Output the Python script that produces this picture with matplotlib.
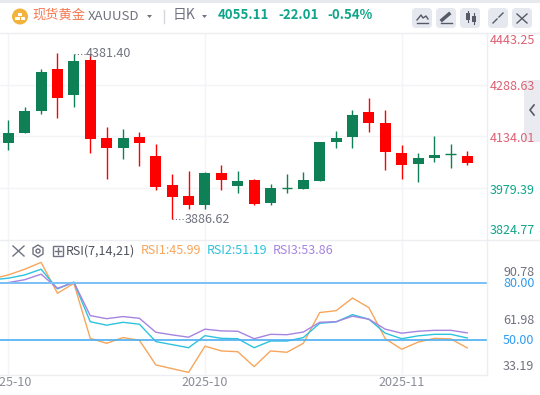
import matplotlib
matplotlib.use("Agg")
import matplotlib.pyplot as plt
from matplotlib.patches import Circle, FancyBboxPatch, Polygon, Rectangle

plt.rcParams['font.family'] = ['Noto Sans CJK SC', 'DejaVu Sans']

# candles
opens = [4114.6, 4144.4, 4210.2, 4335.7, 4258.0, 4362.6, 4129.5, 4099.6, 4132.5, 4075.7, 3989.0, 3956.0,
         3929.3, 4024.9, 3986.0, 4004.0, 3935.3, 3979.2, 3977.0, 4001.0, 4117.5, 4132.5, 4207.2, 4174.3,
         4084.7, 4051.8, 4069.7, 4081.7, 4077.1]
highs = [4183.3, 4222.1, 4335.7, 4383.5, 4381.4, 4380.5, 4162.4, 4156.4, 4147.4, 4111.6, 4021.9, 4030.9,
         4027.9, 4048.8, 4030.9, 4007.0, 3992.0, 4021.9, 4027.9, 4117.5, 4150.4, 4213.2, 4249.0, 4213.2,
         4108.6, 4084.7, 4135.5, 4111.6, 4090.7]
lows = [4093.7, 4144.4, 4201.2, 4189.3, 4222.1, 4084.7, 4007.0, 4066.8, 4045.8, 3974.0, 3886.62, 3917.4,
        3917.4, 3974.0, 3965.0, 3929.3, 3929.3, 3965.0, 3977.0, 4001.0, 4099.6, 4099.6, 4147.4, 4033.9,
        4007.0, 3998.0, 4057.8, 4039.8, 4048.8]
closes = [4144.4, 4210.2, 4326.7, 4249.0, 4359.6, 4126.5, 4099.6, 4129.5, 4114.6, 3983.0, 3953.0, 3929.3,
          4024.9, 4004.0, 4001.0, 3932.3, 3980.0, 3979.2, 4004.0, 4117.5, 4129.5, 4198.2, 4174.3, 4087.7,
          4048.8, 4069.7, 4078.7, 4081.7, 4055.11]

# RSI lines, first value is the bar before the left edge
rsi_idx = list(range(-1, 29))
rsi1 = [82.1, 84.2, 87.2, 90.78, 74.6, 79.8, 51.0, 48.4, 51.4, 50.0, 37.1, 35.1, 33.19, 46.9, 44.4, 44.0,
        36.2, 44.4, 43.7, 48.4, 64.5, 65.5, 72.1, 67.1, 50.8, 45.3, 49.0, 51.0, 50.7, 45.99]
rsi2 = [81.6, 82.5, 84.2, 87.2, 76.9, 80.4, 59.7, 57.9, 59.4, 58.4, 49.3, 47.7, 46.1, 52.4, 51.0, 50.8,
        46.1, 49.6, 49.6, 51.4, 58.9, 59.6, 63.4, 61.0, 53.7, 50.8, 52.3, 53.1, 53.1, 51.19]
rsi3 = [79.5, 80.2, 81.7, 84.6, 77.2, 80.4, 62.9, 61.3, 62.4, 61.5, 54.2, 52.8, 51.6, 55.8, 54.9, 54.7,
        50.8, 53.1, 52.9, 54.3, 59.4, 59.7, 62.6, 61.0, 55.8, 53.7, 54.7, 55.2, 55.2, 53.86]

price_labels = ["4443.25", "4288.63", "4134.01", "3979.39", "3824.77"]
date_idx = [0, 12, 24]
date_labels = ["2025-10", "2025-10", "2025-11"]

W, H = 540, 395
UP = "#0f8055"
DOWN = "#fe0000"
GRID = "#f3f4f8"
BORDER = "#eceef2"
GREY = "#70727f"
TEAL = "#0fa58a"
PINK = "#dd6072"

fig = plt.figure(figsize=(W / 100, H / 100), dpi=100, facecolor="white")


def px_axes(left, top, right, bottom):
    return fig.add_axes([left / W, 1 - bottom / H, (right - left) / W, (bottom - top) / H])


# bar 0 sits at 8.3 px, bars are 16.39 px apart
x_lo = (0 - 8.3) / 16.39
x_hi = (486.5 - 8.3) / 16.39

ax = px_axes(0, 33, 486.5, 240)
ax.set_xlim(x_lo, x_hi)
ax.set_ylim(3824.77, 4443.25)
ax.set_yticks([3979.39, 4134.01, 4288.63])
ax.set_xticks(date_idx)
ax.grid(True, color=GRID, lw=1)
ax.set_axisbelow(True)
ax.tick_params(left=False, bottom=False, labelleft=False, labelbottom=False)
for s in ax.spines.values():
    s.set_visible(False)

for i in range(len(opens)):
    col = UP if closes[i] >= opens[i] else DOWN
    ax.vlines(i, lows[i], highs[i], color=col, lw=1, zorder=2)
    lo_b = min(opens[i], closes[i])
    hi_b = max(opens[i], closes[i])
    if hi_b - lo_b < 1:
        ax.hlines(hi_b, i - 0.33, i + 0.33, color=col, lw=1, zorder=3)
    else:
        ax.bar(i, hi_b - lo_b, bottom=lo_b, width=0.67, color=col, lw=0, zorder=3)

# high and low marks
ax.plot([4, 4.9], [4381.4, 4381.4], color=GREY, lw=0.8, ls=(0, (1, 2)))
ax.text(4.75, 4381.4, "4381.40", color=GREY, fontsize=9, va="center", ha="left")
ax.plot([10, 10.9], [3886.62, 3886.62], color=GREY, lw=0.8, ls=(0, (1, 2)))
ax.text(10.75, 3886.62, "3886.62", color=GREY, fontsize=9, va="center", ha="left")

ax2 = px_axes(0, 240, 486.5, 375)
ax2.set_xlim(x_lo, x_hi)
ax2.set_ylim(31.8, 102.5)
ax2.set_xticks(date_idx)
ax2.set_yticks([])
ax2.grid(True, axis="x", color=GRID, lw=1)
ax2.set_axisbelow(True)
ax2.tick_params(left=False, bottom=False, labelleft=False, labelbottom=False)
for s in ax2.spines.values():
    s.set_visible(False)
ax2.plot(rsi_idx, rsi1, color="#f7a65c", lw=1)
ax2.plot(rsi_idx, rsi2, color="#2dc3dc", lw=1)
ax2.plot(rsi_idx, rsi3, color="#a684e0", lw=1)
ax2.axhline(80, color="#7cc0f5", lw=1.4)
ax2.axhline(50, color="#4aaef2", lw=1.2)

# everything around the plots is placed in pixels
bg = fig.add_axes([0, 0, 1, 1], zorder=5)
bg.set_xlim(0, W)
bg.set_ylim(H, 0)
bg.axis("off")
bg.patch.set_alpha(0)

bg.add_patch(Rectangle((0, 0), W, 2.5, color="#e6e9ee", lw=0))
bg.plot([0, W], [33, 33], color=BORDER, lw=1)
bg.plot([0, W], [240, 240], color=BORDER, lw=1)
bg.plot([0, 486.5], [375, 375], color=BORDER, lw=1)
bg.plot([486.5, 486.5], [33, 375], color=BORDER, lw=1)

# gold icon
bg.add_patch(Circle((20, 16.5), 8, color="#f2b33d", lw=0))
bg.add_patch(Rectangle((18, 12.5), 4, 3, color="white", lw=0))
bg.add_patch(Rectangle((15, 16.5), 4.5, 3, color="white", lw=0))
bg.add_patch(Rectangle((20.5, 16.5), 4.5, 3, color="white", lw=0))

bg.text(32, 15.5, "现货黄金", color="#f5784f", fontsize=9.5, va="center", ha="left")
bg.text(88, 16.5, "XAUUSD", color=GREY, fontsize=9.5, va="center", ha="left")
bg.add_patch(Polygon([[147, 15], [152, 15], [149.5, 18]], color=GREY, lw=0))
bg.plot([163.5, 163.5], [10, 23], color="#d5d7dd", lw=1)
bg.text(173, 15.5, "日K", color=GREY, fontsize=10, va="center", ha="left")
bg.add_patch(Polygon([[202, 15], [207, 15], [204.5, 18]], color=GREY, lw=0))
bg.text(218, 15, "4055.11", color=TEAL, fontsize=9.5, fontweight="bold", va="center", ha="left")
bg.text(278, 15, "-22.01", color=TEAL, fontsize=9.5, fontweight="bold", va="center", ha="left")
bg.text(327, 15, "-0.54%", color=TEAL, fontsize=9.5, fontweight="bold", va="center", ha="left")

# toolbar buttons
for bx in [412, 436, 460, 488, 512]:
    bg.add_patch(FancyBboxPatch((bx, 8), 20, 20, boxstyle="round,pad=0,rounding_size=4",
                                fc="#e6e8ef", ec="none"))
bg.plot([417, 421, 423, 426, 428], [20, 15, 18, 16, 19], color="#555a66", lw=1)
bg.plot([417, 428], [22.5, 22.5], color="#555a66", lw=1)
bg.plot([442, 449], [20, 14], color="#555a66", lw=2.5)
bg.plot([441, 452], [22.5, 22.5], color="#555a66", lw=1)
bg.add_patch(Rectangle((466, 13), 3.5, 7, color="#555a66", lw=0))
bg.plot([467.8, 467.8], [11, 22], color="#555a66", lw=0.8)
bg.add_patch(Rectangle((472, 15.5), 3.5, 6, color="#555a66", lw=0))
bg.plot([473.8, 473.8], [13, 24], color="#555a66", lw=0.8)
bg.plot([493, 497], [23, 19], color="#555a66", lw=1)
bg.plot([499, 503], [17, 13], color="#555a66", lw=1)
bg.plot([517, 527], [14, 23], color="#555a66", lw=1)
bg.plot([527, 517], [14, 23], color="#555a66", lw=1)

# side tab
bg.add_patch(FancyBboxPatch((524, 80), 20, 62, boxstyle="round,pad=0,rounding_size=4",
                            fc="#e9ebf1", ec="none"))
bg.plot([534, 530, 534], [105, 110, 115], color="#555a66", lw=1.2)

# price axis
for lab, y, col in zip(price_labels, [41, 86, 138, 190, 231], [PINK, PINK, PINK, TEAL, TEAL]):
    bg.text(490, y, lab, color=col, fontsize=9, va="center", ha="left")

# RSI header
bg.plot([13, 24], [246, 256], color=GREY, lw=1)
bg.plot([24, 13], [246, 256], color=GREY, lw=1)
bg.add_patch(Polygon([[38, 245], [43, 248], [43, 254], [38, 257], [33, 254], [33, 248]],
                     fc="none", ec=GREY, lw=1))
bg.add_patch(Circle((38, 251), 2, fc="none", ec=GREY, lw=1))
bg.add_patch(Rectangle((52.5, 245.5), 10.5, 10.5, fc="none", ec=GREY, lw=1))
bg.plot([54.5, 61], [250.7, 250.7], color=GREY, lw=1)
bg.plot([57.7, 57.7], [247.5, 254], color=GREY, lw=1)
bg.text(66, 251, "RSI(7,14,21)", color="#50525e", fontsize=9, va="center", ha="left")
bg.text(141, 251, "RSI1:45.99", color="#f7a65c", fontsize=9, va="center", ha="left")
bg.text(207, 251, "RSI2:51.19", color="#2dc3dc", fontsize=9, va="center", ha="left")
bg.text(273, 251, "RSI3:53.86", color="#a684e0", fontsize=9, va="center", ha="left")

# RSI axis
for lab, y, col in zip(["90.78", "80.00", "61.98", "50.00", "33.19"],
                       [273, 283.5, 320.5, 341, 366.5],
                       [GREY, "#2f9bf0", GREY, "#2f9bf0", GREY]):
    bg.text(503, y, lab, color=col, fontsize=9, va="center", ha="left")

# date axis, the first label is cut by the left edge
for i, lab in zip(date_idx, date_labels):
    t = bg.text(8.3 + 16.39 * i, 383, lab, color="#8a8c98", fontsize=9, va="center", ha="center")
    t.set_clip_on(True)

fig.savefig("out.png", dpi=100, facecolor="white")
